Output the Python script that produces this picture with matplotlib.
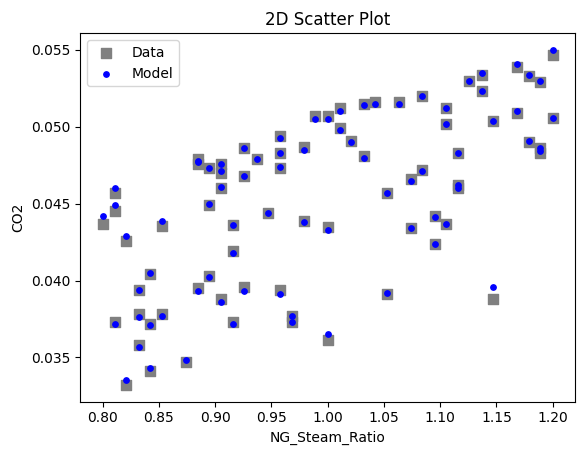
import matplotlib
matplotlib.use("Agg")
import matplotlib.pyplot as plt

# NG/steam ratio for every sample
ng_steam = [
    0.800, 0.811, 0.811, 0.811, 0.821, 0.821, 0.832, 0.832, 0.832,
    0.842, 0.842, 0.842, 0.853, 0.853, 0.874, 0.885, 0.885, 0.885,
    0.895, 0.895, 0.895, 0.905, 0.905, 0.905, 0.905, 0.916, 0.916, 0.916,
    0.926, 0.926, 0.926, 0.937, 0.947, 0.958, 0.958, 0.958, 0.958,
    0.968, 0.968, 0.979, 0.979, 0.989, 1.000, 1.000, 1.000,
    1.011, 1.011, 1.021, 1.032, 1.032, 1.042, 1.053, 1.053, 1.063,
    1.074, 1.074, 1.084, 1.084, 1.095, 1.095, 1.105, 1.105, 1.105,
    1.116, 1.116, 1.116, 1.126, 1.137, 1.137, 1.147, 1.147,
    1.168, 1.168, 1.179, 1.179, 1.189, 1.189, 1.189, 1.200, 1.200,
]

co2_data = [
    0.0437, 0.0445, 0.0457, 0.0373, 0.04255, 0.0332, 0.0394, 0.0378, 0.0358,
    0.0404, 0.0372, 0.0341, 0.04355, 0.0378, 0.0347, 0.0395, 0.0479, 0.0476,
    0.0473, 0.0449, 0.0403, 0.0476, 0.0470, 0.0460, 0.0388, 0.0436, 0.0419, 0.0373,
    0.0486, 0.0468, 0.0396, 0.0479, 0.0444, 0.0494, 0.0483, 0.0473, 0.0394,
    0.0377, 0.0373, 0.0487, 0.0439, 0.0507, 0.0507, 0.0435, 0.0361,
    0.0512, 0.0499, 0.0491, 0.0515, 0.0481, 0.0516, 0.0457, 0.0391, 0.0516,
    0.0466, 0.0434, 0.0520, 0.0472, 0.0442, 0.0424, 0.0512, 0.0502, 0.0437,
    0.0483, 0.0462, 0.0460, 0.0530, 0.0534, 0.0523, 0.0504, 0.0388,
    0.0539, 0.0509, 0.0533, 0.0490, 0.0529, 0.0486, 0.0483, 0.0547, 0.0506,
]

co2_model = [
    0.0442, 0.0449, 0.0460, 0.0372, 0.0429, 0.0335, 0.0394, 0.0376, 0.0357,
    0.0405, 0.0371, 0.0343, 0.0439, 0.0377, 0.0348, 0.0393, 0.0478, 0.0477,
    0.0473, 0.0450, 0.0402, 0.0476, 0.0471, 0.0461, 0.0386, 0.0436, 0.0418, 0.0372,
    0.0486, 0.0468, 0.0393, 0.0479, 0.0444, 0.0493, 0.0483, 0.0474, 0.0391,
    0.0377, 0.0373, 0.0485, 0.0438, 0.0505, 0.0505, 0.0433, 0.0365,
    0.0510, 0.0498, 0.0490, 0.0514, 0.0480, 0.0515, 0.0457, 0.0392, 0.0515,
    0.0465, 0.0434, 0.0520, 0.0471, 0.0441, 0.0424, 0.0512, 0.0502, 0.0437,
    0.0483, 0.0462, 0.0460, 0.0530, 0.0535, 0.0523, 0.0504, 0.0396,
    0.0541, 0.0510, 0.0534, 0.0491, 0.0530, 0.0486, 0.0484, 0.0550, 0.0506,
]

fig, ax = plt.subplots(figsize=(5.84, 4.55), dpi=100)
fig.subplots_adjust(left=0.137, right=0.985, top=0.927, bottom=0.117)

ax.scatter(ng_steam, co2_data, marker="s", s=50, color="gray", label="Data")
ax.scatter(ng_steam, co2_model, marker="o", s=15, color="blue", label="Model")

ax.set_title("2D Scatter Plot")
ax.set_xlabel("NG_Steam_Ratio")
ax.set_ylabel("CO2")
ax.legend(loc="upper left")

fig.savefig("out.png", dpi=100)
